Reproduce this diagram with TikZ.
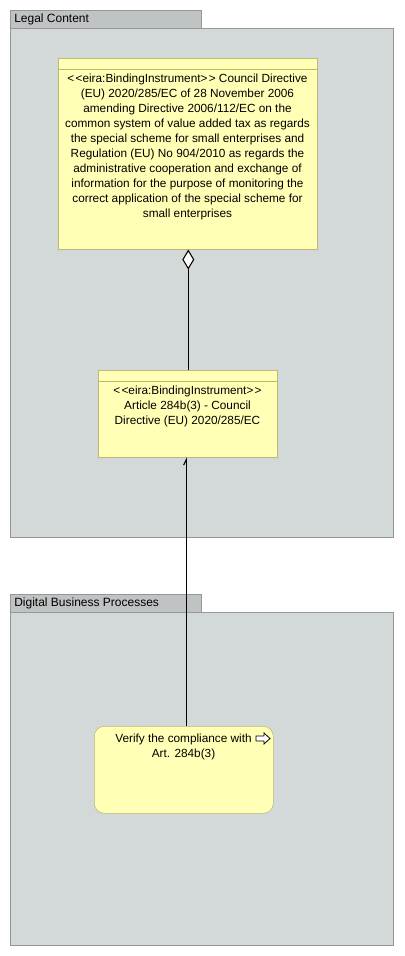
\documentclass[tikz,border=0pt]{standalone}
\usepackage{fontspec}
\setmainfont{Liberation Sans}
\usepackage{tikz}
\usetikzlibrary{arrows.meta}
\usetikzlibrary{calc}

\definecolor{panelgrey}{HTML}{D3D8D8}
\definecolor{tabgrey}{HTML}{BFC3C4}
\definecolor{edgegrey}{HTML}{969696}
\definecolor{noteyellow}{HTML}{FFFFB5}
\definecolor{noteedge}{HTML}{BDB874}

\newcommand{\stereo}[1]{<\kern1pt<#1>\kern1pt>}

\tikzset{
    panel/.style={draw=edgegrey, fill=panelgrey, line width=0.75pt, inner sep=0pt, anchor=north west},
    paneltab/.style={draw=edgegrey, fill=tabgrey, line width=0.75pt, inner sep=0pt, anchor=north west,
        minimum width=143.25pt, minimum height=13.5pt},
    tablabel/.style={anchor=west, inner sep=0pt, font=\fontsize{9}{10}\selectfont},
    instrument/.style={draw=noteedge, fill=noteyellow, inner sep=0pt, anchor=north west},
    txt/.style={align=center, inner sep=0pt, anchor=north, font=\fontsize{8.85}{11.25}\selectfont},
}

\begin{document}
\begin{tikzpicture}[x=0.75pt, y=-0.75pt]
    \useasboundingbox (0,0) rectangle (404,956);
% panels
\node[paneltab] (legaltab) at (10,10) {};
\node[panel, minimum width=287.25pt, minimum height=381.75pt] (legal) at (10,28) {};
\node[tablabel] (legallabel) at (14,19.5) {Legal Content};
\node[paneltab] (dbptab) at (10,594) {};
\node[panel, minimum width=287.25pt, minimum height=249.75pt] (dbp) at (10,612) {};
\node[tablabel] (dbplabel) at (14,603.5) {Digital Business Processes};
% binding instruments
\node[instrument, minimum width=194.25pt, minimum height=143.25pt] (directive) at (58,58) {};
\draw[noteedge] ($(directive.north west)+(0,11)$) -- ($(directive.north east)+(0,11)$);
\node[txt] (directivetext) at (187.5,73.5) {\stereo{eira:BindingInstrument} Council Directive\\
    (EU) 2020/285/EC of 28 November 2006\\
    amending Directive 2006/112/EC on the\\
    common system of value added tax as regards\\
    the special scheme for small enterprises and\\
    Regulation (EU) No 904/2010 as regards the\\
    administrative cooperation and exchange of\\
    information for the purpose of monitoring the\\
    correct application of the special scheme for\\
    small enterprises};
\node[instrument, minimum width=134.25pt, minimum height=65.25pt] (article) at (98,370) {};
\draw[noteedge] ($(article.north west)+(0,11)$) -- ($(article.north east)+(0,11)$);
\node[txt] (articletext) at (187.5,385.5) {\stereo{eira:BindingInstrument}\\
    Article 284b(3) - Council\\
    Directive (EU) 2020/285/EC};
% process
\node[instrument, rounded corners=7.5pt, minimum width=134.25pt, minimum height=65.25pt] (process) at (94,726) {};
\node[txt] (processtext) at (183.5,734) {Verify the compliance with\\
    Art. 284b(3)};
    \draw[fill=white, line width=0.6pt] (256,736) -- (264,736) -- (264,733) -- (270,738.5) -- (264,744) -- (264,741) -- (256,741) -- cycle;
% relations
\draw[line width=0.8pt, {Diamond[open, fill=white, length=15pt, width=9pt]}-] ([xshift=0.4pt]directive.south) -- ([xshift=0.4pt]article.north);
\draw[line width=0.8pt, {Straight Barb[left, length=4pt, width=4pt]}-] ([xshift=-1.1pt]article.south) -- ([xshift=1.9pt]process.north);
\end{tikzpicture}
\end{document}
